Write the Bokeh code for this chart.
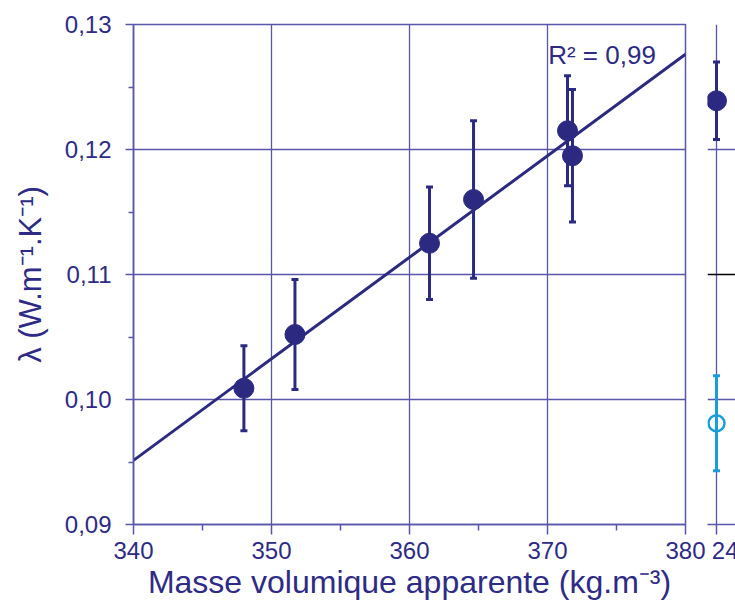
import numpy as np
from bokeh.plotting import figure
from bokeh.layouts import row
from bokeh.models import (ColumnDataSource, Range1d, FixedTicker, Whisker, TeeHead,
                          Label, Span)
from bokeh.embed import file_html
from bokeh.resources import INLINE

# ---------------- data ----------------
density = [348.0, 351.7, 361.45, 364.64, 371.45, 371.81]
conductivity = [0.1009, 0.1052, 0.1125, 0.1160, 0.1215, 0.1195]
cond_err = [0.0034, 0.0044, 0.0045, 0.0063, 0.0044, 0.0053]

x_ticks = [340, 350, 360, 370, 380]
x_minor = [345, 355, 365, 375]
y_ticks = [0.09, 0.10, 0.11, 0.12, 0.13]
y_tick_labels = ["0,09", "0,10", "0,11", "0,12", "0,13"]
y_minor = [0.095, 0.105, 0.115, 0.125]
r2_text = "R\u00b2 = 0,99"

# second (partial) panel
p2_x = [24]
p2_filled = [0.1239]
p2_filled_err = [0.0031]
p2_open = [0.0981]
p2_open_err = [0.0038]
p2_ticks = [24]

# ---------------- styles ----------------
FONT = "Liberation Sans"
TXT = "#2d2b85"
DARK = "#2b2a80"
GRID = "#5856a8"
LIGHT = "#1a9edb"

H = 602
p = figure(width=707, height=H, output_backend="svg", toolbar_location=None,
           x_range=Range1d(340, 380), y_range=Range1d(0.09, 0.13),
           min_border_left=133, min_border_right=22, min_border_top=24,
           min_border_bottom=77)
p.outline_line_color = GRID
p.outline_line_width = 1.5
p.background_fill_color = "white"
p.border_fill_color = "white"

p.xaxis.ticker = FixedTicker(ticks=x_ticks, minor_ticks=x_minor)
p.yaxis.ticker = FixedTicker(ticks=y_ticks, minor_ticks=y_minor)
p.yaxis.major_label_overrides = {t: l for t, l in zip(y_ticks, y_tick_labels)}
p.xgrid.ticker = FixedTicker(ticks=x_ticks)
p.ygrid.ticker = FixedTicker(ticks=y_ticks)
for g in (p.xgrid, p.ygrid):
    g.grid_line_color = GRID
    g.grid_line_width = 1.3

for ax in (p.xaxis, p.yaxis):
    ax.axis_line_color = GRID
    ax.axis_line_width = 1.5
    ax.major_tick_line_color = GRID
    ax.minor_tick_line_color = GRID
    ax.major_tick_line_width = 1.5
    ax.minor_tick_line_width = 1.5
    ax.major_tick_in = 0
    ax.minor_tick_in = 0
    ax.major_label_text_font = FONT
    ax.major_label_text_font_size = "24px"
    ax.major_label_text_color = TXT
    ax.axis_label_text_font = FONT
    ax.axis_label_text_color = TXT
    ax.axis_label_text_font_style = "normal"

p.xaxis.major_tick_out = 10
p.xaxis.minor_tick_out = 6
p.xaxis.major_label_standoff = 7
p.xaxis.axis_label = "Masse volumique apparente (kg.m\u207b\u00b3)"
p.xaxis.axis_label_text_font_size = "32px"
p.xaxis.axis_label_standoff = 2

p.yaxis.major_tick_out = 8
p.yaxis.minor_tick_out = 5
p.yaxis.major_label_standoff = 14
p.yaxis.axis_label = "\u03bb (W.m\u207b\u00b9.K\u207b\u00b9)"
p.yaxis.axis_label_text_font_size = "31px"
p.yaxis.axis_label_standoff = 14

# regression line from data
slope, intercept = np.polyfit(density, conductivity, 1)
xl = np.array([340.0, 380.0])
p.line(xl, slope * xl + intercept, line_color=DARK, line_width=3)

src = ColumnDataSource(dict(
    x=density, y=conductivity,
    lo=[c - e for c, e in zip(conductivity, cond_err)],
    hi=[c + e for c, e in zip(conductivity, cond_err)],
))
p.add_layout(Whisker(source=src, base="x", lower="lo", upper="hi",
                     line_color=DARK, line_width=3,
                     upper_head=TeeHead(size=7, line_color=DARK, line_width=3),
                     lower_head=TeeHead(size=7, line_color=DARK, line_width=3)))
p.scatter("x", "y", source=src, size=20, fill_color=DARK, line_color=DARK)

p.add_layout(Label(x=370.05, y=0.1276, text=r2_text, text_font=FONT,
                   text_font_size="26px", text_color=TXT,
                   text_baseline="alphabetic"))

# ---------------- partial right panel ----------------
q = figure(width=28, height=H, output_backend="svg", toolbar_location=None,
           x_range=Range1d(23.1, 25.9), y_range=Range1d(0.09, 0.13),
           min_border_left=0, min_border_right=0, min_border_top=24,
           min_border_bottom=77, y_axis_location=None)
q.outline_line_color = None
q.xaxis.ticker = FixedTicker(ticks=p2_ticks)
q.xgrid.ticker = FixedTicker(ticks=p2_ticks)
q.ygrid.ticker = FixedTicker(ticks=[0.10, 0.12, 0.13])
for g in (q.xgrid, q.ygrid):
    g.grid_line_color = GRID
    g.grid_line_width = 1.3
q.xaxis.axis_line_color = GRID
q.xaxis.axis_line_width = 1.5
q.xaxis.major_tick_line_color = GRID
q.xaxis.major_tick_line_width = 1.5
q.xaxis.major_tick_in = 0
q.xaxis.major_tick_out = 10
q.xaxis.minor_tick_line_color = None
q.xaxis.major_label_standoff = 7
q.xaxis.major_label_text_font = FONT
q.xaxis.major_label_text_font_size = "24px"
q.xaxis.major_label_text_color = TXT
q.add_layout(Span(location=0.11, dimension="width", line_color="black", line_width=1.3))

s2a = ColumnDataSource(dict(x=p2_x, y=p2_filled,
                            lo=[a - b for a, b in zip(p2_filled, p2_filled_err)],
                            hi=[a + b for a, b in zip(p2_filled, p2_filled_err)]))
s2b = ColumnDataSource(dict(x=p2_x, y=p2_open,
                            lo=[a - b for a, b in zip(p2_open, p2_open_err)],
                            hi=[a + b for a, b in zip(p2_open, p2_open_err)]))
q.add_layout(Whisker(source=s2a, base="x", lower="lo", upper="hi",
                     line_color=DARK, line_width=3,
                     upper_head=TeeHead(size=7, line_color=DARK, line_width=3),
                     lower_head=TeeHead(size=7, line_color=DARK, line_width=3)))
q.scatter("x", "y", source=s2a, size=20, fill_color=DARK, line_color=DARK)
q.add_layout(Whisker(source=s2b, base="x", lower="lo", upper="hi",
                     line_color=LIGHT, line_width=3,
                     upper_head=TeeHead(size=7, line_color=LIGHT, line_width=3),
                     lower_head=TeeHead(size=7, line_color=LIGHT, line_width=3)))
q.scatter("x", "y", source=s2b, size=16, fill_color=None, line_color=LIGHT,
          line_width=2.5)

layout = row(p, q)
open("out.html", "w").write(file_html(layout, INLINE))
